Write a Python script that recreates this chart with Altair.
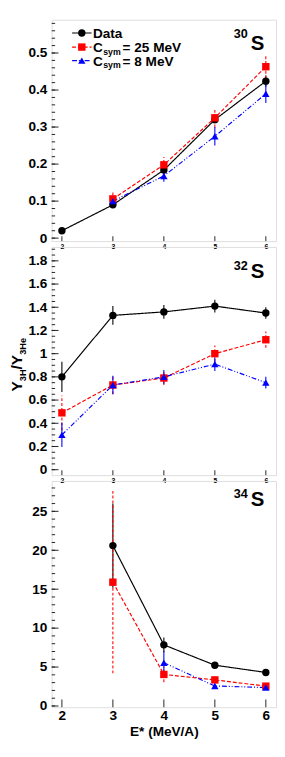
import altair as alt
import pandas as pd

SERIES = ["Data", "Csym = 25 MeV", "Csym = 8 MeV"]
COLORS = ["#000000", "#ff0000", "#0000ff"]
SHAPES = ["circle", "square", "triangle-up"]
DASHES = [[1, 0], [4, 2], [5, 2, 1, 2, 1, 2]]
ERR_DASHES = [[1, 0], [3, 2], [1, 0]]
X_TICKS = [2, 3, 4, 5, 6]

# ---- 30S ----
s30_data_x = [2, 3, 4, 5, 6]
s30_data_y = [0.020, 0.090, 0.184, 0.320, 0.424]
s30_data_e = [0.003, 0.005, 0.008, 0.010, 0.015]
s30_c25_x = [3, 4, 5, 6]
s30_c25_y = [0.106, 0.198, 0.325, 0.463]
s30_c25_e = [0.017, 0.021, 0.026, 0.032]
s30_c8_x = [3, 4, 5, 6]
s30_c8_y = [0.100, 0.168, 0.275, 0.390]
s30_c8_e = [0.016, 0.016, 0.025, 0.025]

# ---- 32S ----
s32_data_x = [2, 3, 4, 5, 6]
s32_data_y = [0.80, 1.33, 1.36, 1.41, 1.35]
s32_data_e = [0.13, 0.08, 0.06, 0.055, 0.05]
s32_c25_x = [2, 3, 4, 5, 6]
s32_c25_y = [0.49, 0.73, 0.79, 1.00, 1.12]
s32_c25_e = [0.15, 0.08, 0.06, 0.07, 0.07]
s32_c8_x = [2, 3, 4, 5, 6]
s32_c8_y = [0.30, 0.73, 0.80, 0.91, 0.75]
s32_c8_e = [0.105, 0.08, 0.06, 0.06, 0.05]

# ---- 34S ----
s34_data_x = [3, 4, 5, 6]
s34_data_y = [20.6, 7.85, 5.24, 4.31]
s34_data_e = [5.4, 0.95, 0.2, 0.2]
s34_c25_x = [3, 4, 5, 6]
s34_c25_y = [15.9, 4.05, 3.35, 2.55]
s34_c25_e = [11.7, 1.0, 0.4, 0.3]
s34_c8_x = [4, 5, 6]
s34_c8_y = [5.55, 2.57, 2.37]
s34_c8_e = [1.5, 0.3, 0.2]

Y30_MAJOR = [0, 0.1, 0.2, 0.3, 0.4, 0.5]
Y30_MINOR = [i * 0.02 for i in range(0, 30)]
Y32_MAJOR = [0, 0.2, 0.4, 0.6, 0.8, 1.0, 1.2, 1.4, 1.6, 1.8]
Y32_MINOR = [i * 0.05 for i in range(0, 39)]
Y34_MAJOR = [0, 5, 10, 15, 20, 25]
Y34_MINOR = list(range(0, 29))

PANEL_LABELS = [("30", "S"), ("32", "S"), ("34", "S")]

FONT = "Liberation Sans"


def frame(series_lists):
    rows = []
    for name, (xs, ys, es) in zip(SERIES, series_lists):
        for i, (x, y, e) in enumerate(zip(xs, ys, es)):
            rows.append({"E": x, "Y": y, "lo": y - e, "hi": y + e,
                         "series": name, "order": i})
    return pd.DataFrame(rows)


def panel(df, ydom, ymajor, yminor, height, yfmt, xlab_size, xtitle,
          xtick_len, lab, s_base, sup_base):
    W = 231
    xscale = alt.Scale(domain=[1.8, 6.2], nice=False, zero=False)
    yscale = alt.Scale(domain=ydom, nice=False, zero=False)
    xaxis = alt.Axis(values=X_TICKS, ticks=False, domain=False, grid=False,
                     labelFontSize=xlab_size, labelFontWeight="bold",
                     labelFont=FONT, labelPadding=2,
                     labelFlush=False, labelOverlap=False, format="d",
                     title=xtitle if xtitle else None,
                     titleFontSize=14, titleFontWeight="bold", titleFont=FONT,
                     titlePadding=2)
    yaxis = alt.Axis(values=ymajor, ticks=False, domain=False, grid=False,
                     labelFontSize=14, labelFontWeight="bold", labelFont=FONT,
                     labelPadding=5, labelOverlap=False, labelFlush=False,
                     format=yfmt, title=None)

    def X(f):
        return alt.X(f, type="quantitative", scale=xscale, axis=xaxis)

    def Y(f):
        return alt.Y(f, type="quantitative", scale=yscale, axis=yaxis)

    color = alt.Color("series:N", scale=alt.Scale(domain=SERIES, range=COLORS), legend=None)
    dash = alt.StrokeDash("series:N", scale=alt.Scale(domain=SERIES, range=DASHES), legend=None)
    edash = alt.StrokeDash("series:N", scale=alt.Scale(domain=SERIES, range=ERR_DASHES), legend=None)
    shape = alt.Shape("series:N", scale=alt.Scale(domain=SERIES, range=SHAPES), legend=None)

    base = alt.Chart(df)
    err = base.mark_rule(strokeWidth=1.1).encode(
        x=X("E"), y=Y("lo"), y2="hi", color=color, strokeDash=edash)
    lines = base.mark_line(strokeWidth=1.2).encode(
        x=X("E"), y=Y("Y"), color=color, strokeDash=dash, order="order:Q")
    pts = base.mark_point(filled=True, opacity=1, size=58, strokeWidth=0).encode(
        x=X("E"), y=Y("Y"), color=color, shape=shape)

    ymaj = alt.Chart(pd.DataFrame({"v": ymajor})).mark_rule(
        color="#222", strokeWidth=1).encode(y=Y("v"), x=alt.value(0), x2=alt.value(7))
    ymin = alt.Chart(pd.DataFrame({"v": [v for v in yminor if ydom[0] <= v <= ydom[1]]})).mark_rule(
        color="#222", strokeWidth=1).encode(y=Y("v"), x=alt.value(0), x2=alt.value(3.5))
    xmaj = alt.Chart(pd.DataFrame({"v": X_TICKS})).mark_rule(
        color="#222", strokeWidth=1).encode(x=X("v"), y=alt.value(height),
                                             y2=alt.value(height - xtick_len))

    one = pd.DataFrame({"a": [0]})
    sup = alt.Chart(one).mark_text(text=lab[0], font=FONT, fontSize=13, fontWeight="bold",
                                   align="right", baseline="alphabetic", color="black").encode(
        x=alt.value(W - 29), y=alt.value(sup_base))
    big = alt.Chart(one).mark_text(text=lab[1], font=FONT, fontSize=21, fontWeight="bold",
                                   align="right", baseline="alphabetic", color="black").encode(
        x=alt.value(W - 12), y=alt.value(s_base))

    layers = [ymin, ymaj, xmaj, err, lines, pts, sup, big]
    return layers, W


def txt(text, x, y, size, angle=0, align="left"):
    return alt.Chart(pd.DataFrame({"a": [0]})).mark_text(
        text=text, font=FONT, fontSize=size, fontWeight="bold", align=align,
        baseline="alphabetic", angle=angle, color="black").encode(
        x=alt.value(x), y=alt.value(y))


def legend_row(i, y_mid, base_y, label_parts):
    items = []
    items.append(alt.Chart(pd.DataFrame({"a": [0]})).mark_rule(
        color=COLORS[i], strokeWidth=1.2, strokeDash=DASHES[i]).encode(
        x=alt.value(21), x2=alt.value(41), y=alt.value(y_mid)))
    items.append(alt.Chart(pd.DataFrame({"a": [0]})).mark_point(
        filled=True, opacity=1, size=58, strokeWidth=0, shape=SHAPES[i],
        color=COLORS[i]).encode(x=alt.value(31), y=alt.value(y_mid)))
    if len(label_parts) == 1:
        items.append(txt(label_parts[0], 42.5, base_y, 14))
    else:
        items.append(txt(label_parts[0], 42.5, base_y, 14))
        items.append(txt(label_parts[1], 53, base_y + 3, 9))
        items.append(txt(label_parts[2], 73, base_y, 14))
    return items


H1, H2, H3 = 228, 235, 233

df30 = frame([(s30_data_x, s30_data_y, s30_data_e),
              (s30_c25_x, s30_c25_y, s30_c25_e),
              (s30_c8_x, s30_c8_y, s30_c8_e)])
df32 = frame([(s32_data_x, s32_data_y, s32_data_e),
              (s32_c25_x, s32_c25_y, s32_c25_e),
              (s32_c8_x, s32_c8_y, s32_c8_e)])
df34 = frame([(s34_data_x, s34_data_y, s34_data_e),
              (s34_c25_x, s34_c25_y, s34_c25_e),
              (s34_c8_x, s34_c8_y, s34_c8_e)])

l1, W = panel(df30, [-0.008, 0.59], Y30_MAJOR, Y30_MINOR, H1, ".1~f", 7, None, 5,
              PANEL_LABELS[0], 31, 19)
l1 += legend_row(0, 13.7, 18.7, ["Data"])
l1 += legend_row(1, 28.2, 33.2, ["C", "sym", "= 25 MeV"])
l1 += legend_row(2, 42.2, 47.2, ["C", "sym", "= 8 MeV"])
p1 = alt.layer(*l1).resolve_scale(strokeDash="independent").properties(width=W, height=H1)

l2, _ = panel(df32, [-0.047, 1.92], Y32_MAJOR, Y32_MINOR, H2, ".1~f", 7, None, 5,
              PANEL_LABELS[1], 32, 24)
# rotated y title: Y_3H / Y_3He
TB = -30.5
l2 += [txt("Y", TB, 149, 16, angle=270),
       txt("3H", TB + 4.5, 138.3, 9.5, angle=270),
       txt("/Y", TB, 126.2, 16, angle=270),
       txt("3He", TB + 4.5, 111.1, 9.5, angle=270)]
p2 = alt.layer(*l2).resolve_scale(strokeDash="independent").properties(width=W, height=H2)

l3, _ = panel(df34, [-0.16, 28.9], Y34_MAJOR, Y34_MINOR, H3, "d", 14, "E* (MeV/A)", 8,
              PANEL_LABELS[2], 26, 18)
p3 = alt.layer(*l3).resolve_scale(strokeDash="independent").properties(width=W, height=H3)

chart = alt.vconcat(p1, p2, p3, spacing=6, bounds="flush").properties(
    padding={"left": 0, "top": 0, "right": 0, "bottom": 0}
).configure_view(stroke="#222", strokeWidth=1.5).configure(font=FONT)

chart.save("out.html", embed_options={"renderer": "svg", "actions": False})
